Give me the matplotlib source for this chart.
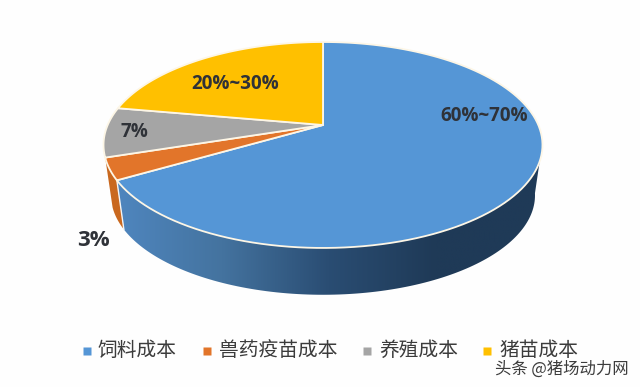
"""3D-look cost share pie, drawn with a small perspective projection."""
import matplotlib
matplotlib.use("Agg")
import matplotlib.pyplot as plt
import numpy as np
from matplotlib.colors import LinearSegmentedColormap
from matplotlib.patches import Polygon

plt.rcParams["font.family"] = ["Noto Sans CJK SC", "DejaVu Sans"]

categories = ["饲料成本", "兽药疫苗成本", "养殖成本", "猪苗成本"]
shares = [66.6, 3.4, 7.8, 22.2]
share_labels = ["60%~70%", "3%", "7%", "20%~30%"]
colors = ["#5596d6", "#e2752a", "#a5a5a5", "#ffc000"]

# projection of the pie disc onto the picture, in pixels
CX, CY = 323.0, 125.0
RX, RY = 215.3, 99.1
PERSP = 0.194
DEPTH = 51.0
SHRINK = 0.966


def project(clock_deg, lower=False):
    """Clockwise degrees from 12 o'clock to picture pixels, top or bottom rim."""
    t = np.radians(clock_deg)
    x, y = np.sin(t), np.cos(t)
    w = 1 + PERSP * y
    u, v = RX * x / w, -RY * y / w
    if lower:
        return CX + SHRINK * u, CY + DEPTH + SHRINK * v
    return CX + u, CY + v


def arc(start, end, lower=False, n=120):
    return np.column_stack(project(np.linspace(start, end, n), lower))


def main():
    fig = plt.figure(figsize=(6.4, 3.87), dpi=100, facecolor="#fefefe")
    ax = fig.add_axes([0, 0, 1, 1])

    edges = np.concatenate([[0], np.cumsum(shares)]) * 360 / sum(shares)

    # blue side wall with the left-to-right shading
    side = np.vstack([arc(100, edges[1]), arc(edges[1], 100, lower=True)])
    clip = Polygon(side, closed=True, transform=ax.transData, fc="none", ec="none")
    ax.add_patch(clip)
    shade = LinearSegmentedColormap.from_list(
        "side", ["#4f86bf", "#44739f", "#2a4d73", "#1f3a57", "#1f3a57"])
    img = ax.imshow(np.linspace(0, 1, 256)[None, :], cmap=shade, aspect="auto",
                    extent=(115, 542, 300, 140), zorder=1)
    img.set_clip_path(clip)

    # orange side wall
    orange_side = np.vstack([arc(edges[1], edges[2]), arc(edges[2], edges[1], lower=True)])
    ax.add_patch(Polygon(orange_side, closed=True, fc="#c9681f", ec="none", zorder=1))
    x0, y0 = project(edges[1])
    x1, y1 = project(edges[1], lower=True)
    ax.plot([x0, x1], [y0, y1], color="#f4f4f4", lw=1.0, zorder=2)

    # top face
    for i, color in enumerate(colors):
        face = np.vstack([[CX, CY], arc(edges[i], edges[i + 1])])
        ax.add_patch(Polygon(face, closed=True, fc=color, ec="#fdf6e6", lw=1.3,
                             joinstyle="round", zorder=3))

    # labels on the slices
    label_pos = [(484, 116, 13.6), (93, 240, 16), (134, 132, 13.6), (235, 84, 13.6)]
    for text, (x, y, size) in zip(share_labels, label_pos):
        ax.text(x, y, text, ha="center", va="center", fontsize=size,
                fontweight="bold", family=["Open Sans", "DejaVu Sans"], color="#2f3238", zorder=4)

    # legend row
    legend_x = [87, 207, 367, 487]
    text_x = [98, 219, 379, 499]
    for name, color, mx, tx in zip(categories, colors, legend_x, text_x):
        ax.plot(mx, 351, marker="s", ms=5.5, color=color, mec="none", zorder=4)
        ax.text(tx, 350, name, ha="left", va="center", fontsize=14.2, color="#3c3c3c", zorder=4)

    # site watermark
    ax.text(495, 369, "头条 @猪场动力网", ha="left", va="center", fontsize=11.8,
            color="#3c3c3c", zorder=5)

    ax.set_xlim(0, 640)
    ax.set_ylim(387, 0)
    ax.axis("off")
    fig.savefig("out.png", dpi=100, facecolor=fig.get_facecolor())
    plt.close(fig)


if __name__ == "__main__":
    main()
